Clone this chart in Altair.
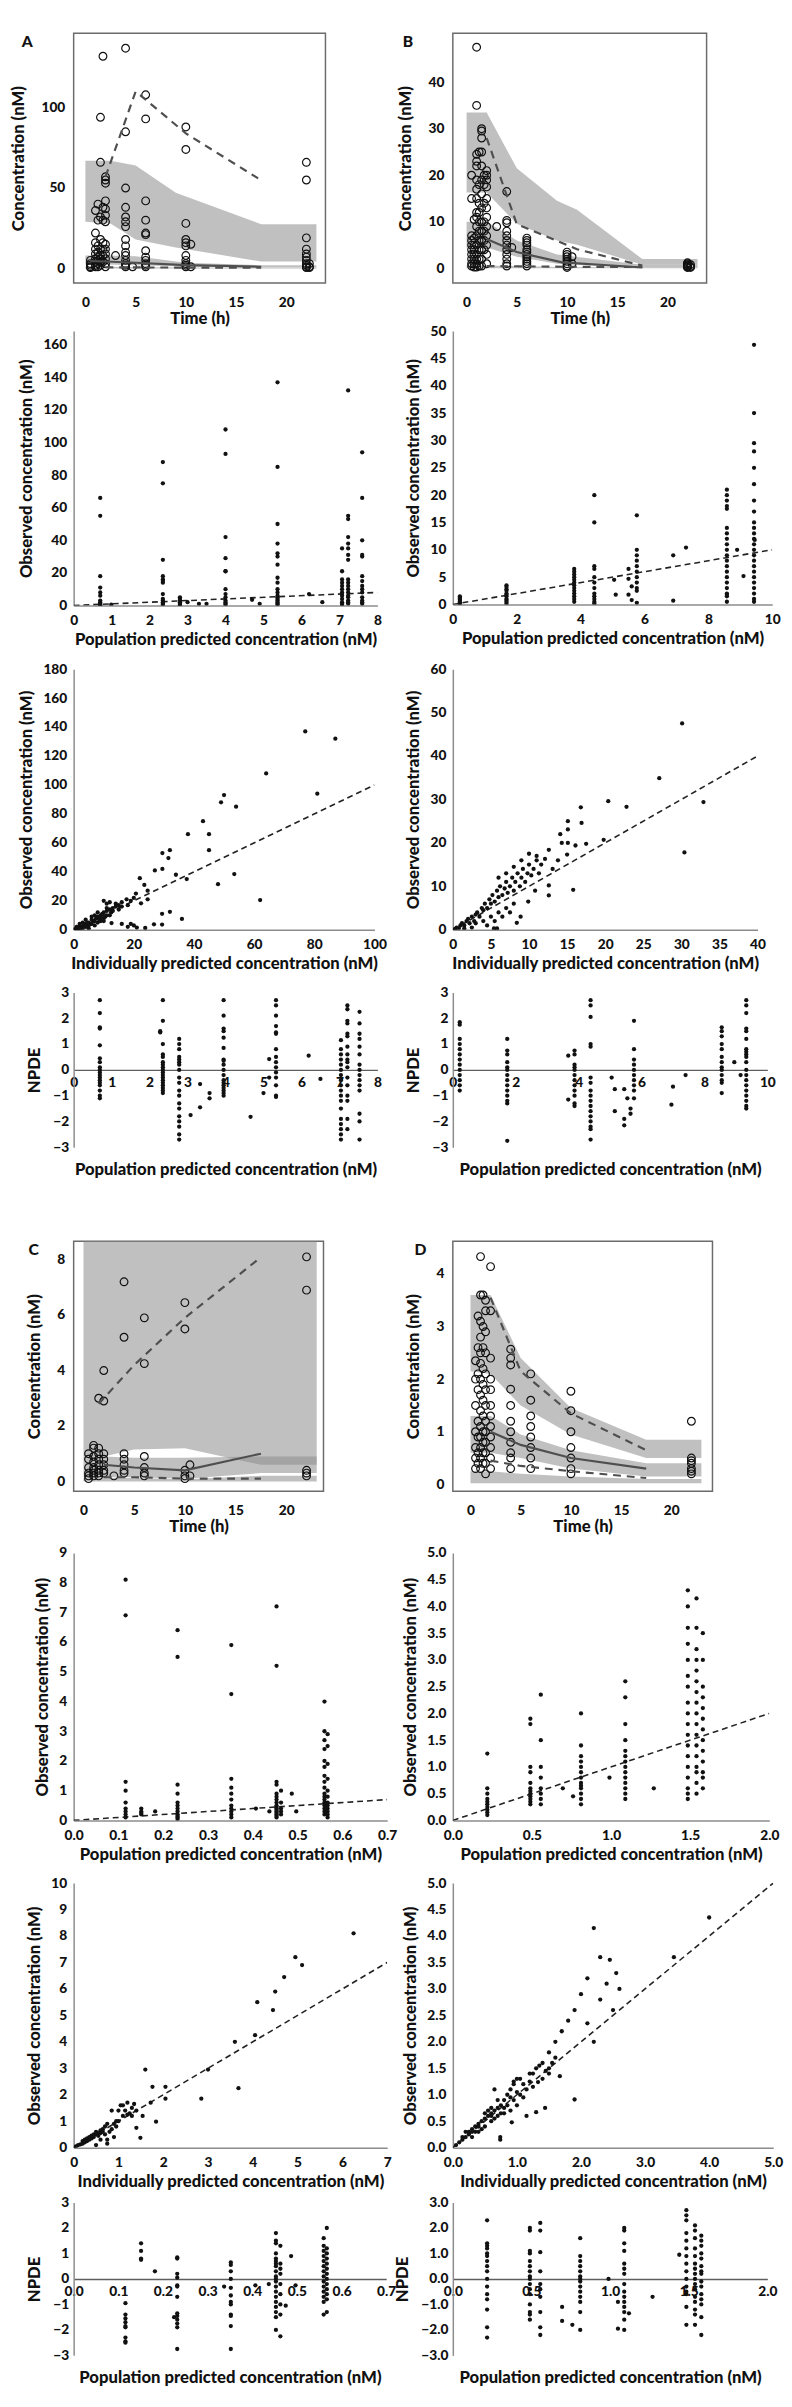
import altair as alt
import pandas as pd

FONT = "Lato"
WEIGHT = 900
INK = "#111111"
BAND = "#8c8c8c"
LINE = "#4f4f4f"
AXC = "#8c8c8c"

# ======================= DATA =======================
# ---- Panel A : VPC (time h, concentration nM) ----
A_OBS = [
    (0.5, [5, 3, 2, 1, 0.5]),
    (1.0, [36, 22, 16, 12, 9, 6, 4, 2, 1]),
    (1.25, [40, 30, 14, 10, 7, 5, 3, 1]),
    (1.5, [94, 66, 32, 18, 12, 8, 6, 4, 2]),
    (1.75, [132, 38, 30, 16, 12, 8, 4]),
    (2.0, [57, 55, 53, 42, 37, 33, 29, 15, 12, 9, 6, 3, 1]),
    (3.0, [8]),
    (4.0, [137, 85, 50, 38, 32, 29, 26, 18, 14, 10, 8, 5, 3, 2, 1]),
    (4.7, [1]),
    (6.0, [108, 93, 42, 30, 22, 21, 11, 7, 5, 3, 2, 1]),
    (10.0, [88, 74, 28, 18, 16, 14, 8, 5, 3, 2, 1]),
    (10.5, [15, 1]),
    (22.0, [66, 55, 19, 12, 9, 7, 5, 3, 2, 1, 0.5]),
    (22.3, [3, 1, 0.5]),
]
A_BAND_HI = [(0, 29, 67), (2.5, 28, 67), (5, 18, 64), (9, 13, 47), (17.5, 4.3, 27.5), (23, 4.3, 27.5)]
A_BAND_MED = [(0, 2.5, 8), (2, 2.5, 8), (5, 2.0, 7.5), (10, 1.2, 3.5), (17.5, 0.6, 2.0), (23, 0.6, 2.0)]
A_BAND_LO = [(0, 0.0, 1.0), (2, 0.0, 1.0), (5, 0.0, 0.8), (10, 0.0, 0.5), (17.5, 0.0, 0.4), (23, 0.0, 0.4)]
A_P95 = [(2, 57), (5, 110), (6, 105), (10, 84), (17.2, 56)]
A_P50 = [(0.5, 4.5), (2, 4.3), (5, 3.5), (10, 2.0), (17.5, 1.0)]
A_P05 = [(2, 0.7), (5, 0.6), (10, 0.5), (17.5, 0.4)]

# ---- Panel B : VPC ----
B_OBS = [
    (0.5, [20, 15, 7, 6, 5, 4, 3, 2, 1, 0.5]),
    (0.75, [10.5, 6.5, 5, 4, 3, 2, 1, 0.3]),
    (1.0, [47.5, 35, 24.5, 23, 22, 19, 17, 15, 12, 11, 9, 7, 5, 3, 2, 1, 0.3]),
    (1.25, [25, 18, 14, 12, 10, 8, 6, 4, 2, 0.5]),
    (1.5, [30, 29.5, 28, 25, 22, 19, 16, 13, 10, 8, 6, 4, 2, 0.5]),
    (1.75, [20, 18, 14, 10, 8, 6, 4]),
    (2.0, [21, 20, 19, 17.5, 15, 13, 11, 9, 7, 5, 3, 1]),
    (3.0, [9]),
    (4.0, [16.5, 10.3, 9.8, 8, 7, 6, 5, 4, 3, 2, 1, 0.5]),
    (4.5, [4.5]),
    (6.0, [6.5, 6, 5.5, 5, 4, 3.5, 3, 2.5, 2, 1.5, 1, 0.5]),
    (10.0, [3.5, 3, 2.5, 2, 1.5, 1, 0.5, 0.2]),
    (10.5, [2.5, 1]),
    (22.0, [1.2, 1.0, 0.8, 0.6, 0.5, 0.3, 0.2]),
    (22.3, [0.8, 0.4, 0.2]),
]
B_BAND_HI = [(0, 16.3, 33.5), (2, 16.3, 33.5), (5, 9.6, 21.5), (9, 6.0, 14.5), (11, 5.1, 12.6), (17.5, 0.8, 2.0), (23, 0.8, 2.0)]
B_BAND_MED = [(0, 4.5, 10), (2, 4.5, 10), (5, 2.5, 6), (9, 1.0, 3.0), (17.5, 0.2, 0.8), (23, 0.2, 0.8)]
B_BAND_LO = [(0, 0.05, 0.6), (2, 0.05, 0.6), (5, 0.05, 0.5), (9, 0.05, 0.3), (17.5, 0.05, 0.2), (23, 0.05, 0.2)]
B_P95 = [(2, 28), (5, 9.5), (11, 4.1), (17.5, 0.6)]
B_P50 = [(2, 6.3), (5, 3.5), (9.5, 1.3), (17.5, 0.2)]
B_P05 = [(2, 0.5), (5, 0.45), (10, 0.35), (17.5, 0.3)]

# ---- Panel C : VPC ----
C_OBS = [
    (0.5, [1.0, 0.8, 0.5, 0.3, 0.2, 0.1]),
    (1.0, [1.3, 1.2, 0.9, 0.7, 0.5, 0.4, 0.3, 0.2]),
    (1.5, [3.0, 1.2, 1.0, 0.8, 0.6, 0.4, 0.3, 0.2]),
    (2.0, [4.0, 2.9, 1.0, 0.8, 0.6, 0.4, 0.3]),
    (3.0, [0.2]),
    (4.0, [7.2, 5.2, 1.0, 0.8, 0.6, 0.4, 0.3]),
    (6.0, [5.9, 4.25, 0.9, 0.5, 0.3, 0.2]),
    (10.0, [6.45, 5.5, 0.4, 0.2, 0.1]),
    (10.5, [0.6, 0.2]),
    (22.0, [8.1, 6.9, 0.4, 0.3, 0.2]),
]
C_BAND_HI = [(0, 0.9, 20), (2, 0.9, 20), (5, 1.15, 20), (10, 1.2, 20), (17.5, 0.6, 20), (23, 0.6, 20)]
C_BAND_MED = [(0, 0.15, 0.9), (2, 0.15, 0.9), (5, 0.15, 0.85), (10, 0.1, 0.85), (17.5, 0.3, 0.9), (23, 0.3, 0.9)]
C_BAND_LO = [(0, 0.0, 0.12), (2, 0.0, 0.12), (5, 0.0, 0.12), (10, 0.0, 0.08), (17.5, 0.0, 0.2), (23, 0.0, 0.2)]
C_P95 = [(1.5, 2.8), (2, 3.0), (5, 4.2), (10, 5.9), (17.2, 8.0)]
C_P50 = [(2, 0.6), (5, 0.5), (10, 0.4), (17.5, 1.0)]
C_P05 = [(2, 0.15), (5, 0.15), (10, 0.1), (17.5, 0.1)]

# ---- Panel D : VPC ----
D_OBS = [
    (0.5, [2.35, 2.0, 1.5, 1.0, 0.7, 0.5, 0.3]),
    (0.75, [3.2, 2.6, 2.1, 1.8, 1.2, 0.9, 0.6, 0.4]),
    (1.0, [4.33, 3.6, 3.1, 2.8, 2.5, 2.3, 2.0, 1.7, 1.4, 1.1, 0.9, 0.7, 0.5, 0.3]),
    (1.25, [3.6, 3.0, 2.6, 2.2, 1.9, 1.6, 1.3, 1.0, 0.8, 0.6, 0.4]),
    (1.5, [3.5, 3.3, 2.9, 2.5, 2.1, 1.8, 1.5, 1.2, 1.0, 0.8, 0.6, 0.4, 0.2]),
    (2.0, [4.14, 3.3, 2.4, 2.0, 1.8, 1.5, 1.3, 1.1, 0.9, 0.7, 0.5, 0.3]),
    (4.0, [2.57, 2.4, 2.27, 1.81, 1.5, 1.2, 1.0, 0.8, 0.6, 0.5, 0.3]),
    (6.0, [2.1, 1.6, 1.3, 1.1, 0.9, 0.7, 0.5, 0.3]),
    (10.0, [1.77, 1.4, 1.0, 0.7, 0.5, 0.3, 0.2]),
    (22.0, [1.2, 0.5, 0.45, 0.4, 0.3, 0.25, 0.2]),
]
D_BAND_HI = [(0, 2.15, 3.6), (2, 2.1, 3.6), (5, 1.5, 2.4), (10, 0.95, 1.45), (17.5, 0.5, 0.85), (23, 0.5, 0.85)]
D_BAND_MED = [(0, 0.6, 1.3), (2, 0.6, 1.3), (5, 0.5, 0.95), (10, 0.3, 0.65), (17.5, 0.15, 0.4), (23, 0.15, 0.4)]
D_BAND_LO = [(0, 0.02, 0.25), (2, 0.02, 0.25), (5, 0.02, 0.2), (10, 0.02, 0.15), (17.5, 0.02, 0.1), (23, 0.02, 0.1)]
D_P95 = [(2, 3.55), (5, 2.15), (10, 1.35), (17.5, 0.65)]
D_P50 = [(2, 1.0), (5, 0.75), (10, 0.5), (17.5, 0.3)]
D_P05 = [(2, 0.45), (5, 0.35), (10, 0.25), (17.5, 0.12)]

# ---- Observed vs population predicted (pred, [observed...]) ----
A_POP = [
    (0.70, [66, 55, 18, 11, 8, 6, 3, 2, 1, 0.5, 0.2]), (0.99, [0.5]),
    (2.35, [88, 75, 28, 18, 16, 15, 14, 7, 4, 3, 2, 1, 0.5]),
    (2.8, [5, 4, 3, 2, 1, 0.5, 0.2]), (3.0, [2]), (3.3, [1]), (3.5, [1]),
    (4.0, [108, 93, 42, 29, 21, 21, 10, 7, 5, 3, 2, 1, 0.5]), (4.7, [3.5]), (4.9, [1]),
    (5.37, [137, 85, 50, 38, 32, 30, 25, 17, 14, 10, 8, 6, 5, 4, 3, 2, 1, 0.5]),
    (6.2, [7]), (6.55, [2]),
    (7.07, [35, 21, 16, 14, 12, 10, 8, 6, 4, 2, 1, 0.5]),
    (7.23, [132, 55, 53, 42, 38, 35, 31, 28, 16, 14, 12, 10, 8, 6, 5, 3, 2, 1]),
    (7.6, [94, 66, 40, 31, 30, 18, 15, 12, 10, 8, 5, 3, 2, 1]),
]
B_POP = [
    (0.22, [1.5, 1.2, 1.0, 0.8, 0.5, 0.3, 0.1]),
    (1.68, [3.5, 3.2, 2.8, 2.5, 2.0, 1.8, 1.5, 1.0, 0.8, 0.5, 0.2]),
    (3.8, [6.5, 6, 5.5, 5, 4.5, 4, 3.5, 3, 2.5, 2, 1.5, 1, 0.5]),
    (4.43, [20, 15, 7, 6.5, 5, 4, 3, 2, 1.5, 1, 0.5, 0.2]),
    (5.05, [4.5]), (5.1, [1.8]), (5.5, [6.5, 4.7, 1.8]), (5.6, [3.3, 0.8]),
    (5.76, [16.3, 10, 9, 8, 7, 6, 5, 4, 3, 2.5, 0.3]),
    (6.9, [9, 0.7]), (7.3, [10.4]),
    (8.58, [21, 20, 19, 18, 17.5, 14, 13, 12, 11, 10, 9, 8, 7, 6, 5, 4, 3, 2, 1.8, 1.5, 0.5]),
    (8.9, [10]), (9.1, [5.2]),
    (9.43, [47.5, 35, 29.5, 28, 25, 22, 19, 17, 15, 14, 13, 12, 11, 10, 9, 8, 7, 6, 5, 4, 3, 2, 1, 0.5]),
    (9.45, [11.8]),
]
C_POP = [
    (0.116, [8.1, 6.9, 1.3, 1.0, 0.6, 0.4, 0.3, 0.2, 0.1]),
    (0.151, [0.4, 0.3, 0.25, 0.2]), (0.182, [0.3]),
    (0.232, [6.4, 5.5, 1.2, 0.9, 0.6, 0.5, 0.4, 0.3, 0.2, 0.15, 0.1, 0.05]),
    (0.352, [5.9, 4.25, 1.4, 1.1, 0.9, 0.7, 0.5, 0.4, 0.3, 0.2, 0.1]),
    (0.407, [0.4]), (0.437, [0.3]),
    (0.453, [7.2, 5.2, 1.3, 1.2, 0.9, 0.8, 0.7, 0.6, 0.5, 0.45, 0.4, 0.35, 0.3, 0.25, 0.2, 0.15, 0.1]),
    (0.463, [1.0, 0.6, 0.4, 0.3, 0.2]), (0.487, [0.9]), (0.497, [0.3]),
    (0.56, [4.0, 3.0, 2.7, 2.4, 2.0, 1.8, 1.5, 1.3, 1.1, 0.9, 0.8, 0.7, 0.6, 0.5, 0.4, 0.3, 0.2]),
    (0.567, [2.9, 2.5, 1.9, 1.4, 1.0, 0.8, 0.6, 0.5, 0.4, 0.3, 0.2, 0.1]),
]
D_POP = [
    (0.218, [1.25, 0.6, 0.5, 0.4, 0.35, 0.3, 0.25, 0.2, 0.15, 0.1]),
    (0.49, [1.9, 1.8, 1.0, 0.9, 0.7, 0.6, 0.55, 0.5, 0.45, 0.4, 0.35, 0.3]),
    (0.556, [2.35, 1.5, 1.0, 0.8, 0.6, 0.5, 0.4, 0.3]),
    (0.695, [0.6]), (0.76, [0.45]),
    (0.81, [2.0, 1.4, 1.2, 1.1, 1.0, 0.9, 0.8, 0.7, 0.65, 0.6, 0.5, 0.4, 0.3]),
    (0.99, [0.8]),
    (1.09, [2.6, 2.3, 1.8, 1.5, 1.3, 1.2, 1.1, 1.0, 0.9, 0.8, 0.7, 0.6, 0.5, 0.4]),
    (1.27, [0.6]),
    (1.485, [4.3, 4.0, 3.6, 3.3, 3.0, 2.7, 2.5, 2.2, 2.0, 1.8, 1.6, 1.4, 1.2, 1.0, 0.8, 0.6, 0.5, 0.4]),
    (1.54, [4.15, 3.6, 3.2, 3.0, 2.8, 2.6, 2.4, 2.2, 2.0, 1.8, 1.6, 1.4, 1.2, 1.0, 0.9, 0.7, 0.5]),
    (1.58, [3.5, 3.0, 2.5, 2.3, 2.1, 1.9, 1.7, 1.5, 1.3, 1.1, 0.9, 0.8, 0.6]),
]

# ---- Observed vs individually predicted (pred, observed) ----
A_IND = [
    (77, 137), (87, 132), (64, 108), (81, 94), (50, 93), (49, 88), (54, 85), (43, 75), (38, 66), (45, 66),
    (45, 55), (32, 55), (29.5, 53), (31.5, 49.5), (27, 41), (29.5, 42), (34, 38), (37.6, 35), (48, 31.5),
    (53.4, 38.5), (22, 35.6), (23.5, 31), (24.6, 27), (20.7, 25), (17.6, 21), (24.6, 21), (62, 20.5),
    (22.4, 18.3), (29.4, 11), (32, 12.4), (36, 7.5), (29.4, 3.6), (26.7, 3.8), (23.8, 1.3), (20, 3),
    (12.6, 4.6), (18, 2), (19, 4), (21, 1.5), (16, 4), (10, 20), (11, 18), (12, 19),
    (0.5, 0.3), (1, 1), (1.5, 0.8), (2, 2), (2.5, 1.5), (3, 2.5), (3.5, 3), (4, 4), (4.5, 5), (5, 5),
    (5.5, 4), (6, 7), (6.5, 6), (7, 6), (7.5, 8), (8, 9), (8.5, 7), (9, 10), (9.5, 11), (10, 12),
    (10.5, 9), (11, 13), (12, 14), (12.5, 12), (13, 15), (14, 16), (15, 17), (16, 19), (3, 5), (5, 3),
    (6, 4), (8, 5), (2, 4), (4, 7), (7, 10), (10, 8), (11, 15), (9, 6), (1, 2), (2, 0.5), (3, 1), (4, 2),
    (5, 1), (7, 3), (8, 12), (9, 8), (13, 13), (14, 18), (12, 10), (6, 9), (0.3, 0.2), (0.8, 0.6),
    (1.2, 1.5), (18, 17), (15, 14), (16, 16), (19, 20), (20, 22), (11, 10), (10, 6),
]
B_IND = [
    (30.1, 47.5), (27.1, 34.9), (32.9, 29.4), (30.4, 17.8), (20.4, 29.6), (22.8, 28.3), (16.8, 28.2),
    (16.9, 24.6), (15.1, 25), (15.1, 23.1), (14.1, 22), (14.3, 20), (15.1, 20), (16.1, 19.4), (17.5, 19.8),
    (19.8, 20.7), (15.0, 17.3), (12.6, 18.4), (13.8, 16), (13.1, 14), (12.1, 16.3), (12.6, 10.2),
    (12.6, 7.9), (15.8, 9.2), (8.4, 1.6), (8.9, 3), (9.9, 6.5), (10.8, 9), (5.4, 0.3),
    (0.3, 0.2), (0.5, 0.5), (0.8, 0.4), (1, 1), (1.2, 1.5), (1.5, 1), (1.8, 2), (2, 2.5), (2.2, 1.5),
    (2.5, 3), (2.8, 2), (3, 3.5), (3.2, 4), (3.5, 3), (3.8, 5), (4, 4.5), (4.2, 6), (4.5, 5), (4.8, 7),
    (5, 6), (5.2, 8), (5.5, 6.5), (5.8, 9), (6, 7.5), (6.2, 10), (6.5, 8), (6.8, 9.5), (7, 11), (7.2, 8.5),
    (7.5, 10), (7.8, 12), (8, 9), (8.2, 11), (8.5, 13), (8.8, 10), (9, 12), (9.2, 14), (9.5, 11),
    (9.8, 13), (10, 15), (10.3, 12.5), (10.6, 14), (11, 16), (11.3, 13), (11.6, 15), (3, 1.5), (4, 2),
    (5, 3), (5.5, 2), (6, 4), (6.5, 3), (7, 5), (7.5, 4), (8, 6), (4.5, 1), (5.8, 0.3), (2.5, 0.5),
    (1.5, 0.3), (6, 12), (7, 13), (8, 14.5), (9, 16), (10, 17.5), (11, 17),
]
C_IND = [
    (6.25, 8.1), (4.95, 7.2), (5.1, 6.9), (4.7, 6.45), (4.5, 5.9), (4.1, 5.5), (4.45, 5.2), (4.05, 4.25),
    (3.6, 4.0), (1.6, 2.95), (3.0, 2.95), (1.76, 2.3), (2.05, 2.3), (2.05, 1.85), (2.85, 1.85),
    (3.68, 2.25), (1.72, 1.7), (1.84, 0.98), (1.54, 1.2), (1.4, 0.75), (1.49, 0.37),
    (0.05, 0.05), (0.1, 0.1), (0.15, 0.12), (0.2, 0.15), (0.2, 0.25), (0.25, 0.3), (0.3, 0.25),
    (0.3, 0.35), (0.35, 0.4), (0.4, 0.35), (0.4, 0.45), (0.45, 0.5), (0.5, 0.5), (0.5, 0.6), (0.55, 0.45),
    (0.6, 0.55), (0.6, 0.65), (0.65, 0.7), (0.7, 0.8), (0.75, 0.9), (0.75, 0.3), (0.8, 0.6), (0.85, 1.4),
    (0.9, 0.9), (0.95, 0.8), (1.0, 1.0), (1.05, 1.6), (1.1, 1.2), (1.15, 1.4), (1.2, 1.7), (1.25, 1.3),
    (1.3, 1.5), (1.35, 1.65), (1.4, 1.4), (0.9, 0.4), (0.5, 0.1), (0.75, 0.15), (1.0, 1.4), (0.6, 0.3),
    (1.1, 1.6), (1.2, 1.25), (1.3, 1.2), (0.95, 1.0), (0.85, 0.7), (0.7, 0.5), (0.35, 0.3), (0.25, 0.2),
    (0.45, 0.4), (0.55, 0.55), (0.65, 0.6),
]
D_IND = [
    (4.0, 4.35), (2.2, 4.15), (2.3, 3.6), (2.45, 3.55), (3.45, 3.6), (2.55, 3.3), (2.6, 3.0), (2.4, 3.1),
    (2.1, 3.2), (2.0, 2.9), (2.3, 2.8), (1.9, 2.6), (2.5, 2.6), (1.8, 2.4), (2.1, 2.35), (1.7, 2.2),
    (1.6, 2.0), (2.2, 2.0), (1.9, 0.91), (1.67, 1.35), (1.33, 1.24), (1.44, 0.75), (1.3, 0.67),
    (1.15, 0.6), (0.92, 0.48), (0.74, 0.15), (0.74, 0.2), (1.5, 1.5), (1.45, 1.45), (1.55, 1.6),
    (1.4, 1.3), (1.6, 1.7), (1.5, 1.8), (1.35, 1.55), (1.25, 1.4), (1.2, 1.25), (1.05, 1.3), (0.95, 1.25),
    (0.05, 0.05), (0.1, 0.1), (0.15, 0.15), (0.2, 0.2), (0.2, 0.3), (0.25, 0.3), (0.3, 0.35), (0.35, 0.3),
    (0.4, 0.45), (0.45, 0.5), (0.5, 0.55), (0.55, 0.6), (0.6, 0.65), (0.65, 0.7), (0.7, 0.75), (0.75, 0.8),
    (0.8, 0.9), (0.85, 1.0), (0.9, 1.1), (0.95, 1.2), (1.0, 1.3), (1.05, 1.0), (1.1, 1.2), (1.2, 1.4),
    (1.3, 1.5), (1.4, 1.6), (1.5, 1.4), (0.3, 0.2), (0.4, 0.3), (0.5, 0.4), (0.6, 0.5), (0.7, 0.6),
    (0.8, 0.65), (0.9, 0.7), (1.0, 0.8), (0.5, 0.65), (0.6, 0.75), (0.65, 1.1), (0.55, 0.7), (0.35, 0.4),
    (0.45, 0.35), (0.25, 0.25), (0.15, 0.2), (0.7, 0.9), (0.75, 0.65), (0.8, 0.75), (0.85, 0.8),
    (0.9, 0.95), (0.95, 0.9), (1.0, 1.05), (1.1, 0.95), (1.15, 1.1), (1.25, 1.15), (0.6, 0.6),
    (0.65, 0.55), (0.4, 0.4), (0.3, 0.3),
]

# ---- NPDE vs population predicted (pred, [npde...]) ----
A_NPDE = [
    (0.69, [2.7, 2.2, 1.65, 1.6, 0.95, 0.45, 0.3, 0.1, 0, -0.1, -0.2, -0.3, -0.4, -0.5, -0.6, -0.8, -1.0, -1.1]),
    (2.28, [1.5, 1.45]),
    (2.35, [2.7, 1.9, 1.0, 0.6, 0.5, 0.3, 0.2, 0.1, 0, -0.1, -0.2, -0.3, -0.4, -0.5, -0.6, -0.7, -0.8, -0.9]),
    (2.78, [1.2, 1.0, 0.8, 0.5, 0.4, 0.3, 0.2, 0, -0.3, -0.5, -0.8, -1.0, -1.3, -1.5, -1.8, -2.0, -2.2, -2.5, -2.7]),
    (3.08, [-1.75]), (3.33, [-0.55, -1.45]), (3.58, [-0.9, -1.1]),
    (3.95, [2.7, 2.1, 1.6, 1.5, 1.25, 0.85, 0.4, 0.35, 0.2, 0, -0.2, -0.4, -0.5, -0.6, -0.7, -0.8, -0.9, -1.0]),
    (4.66, [-1.82]), (5.0, [-0.9]), (5.15, [0.42, -0.3]),
    (5.33, [2.7, 2.5, 2.1, 1.7, 1.45, 1.4, 0.8, 0.5, 0.3, 0.1, -0.1, -0.3, -0.6, -1.0, -1.05]),
    (6.19, [0.55]), (6.5, [-0.35]),
    (7.04, [1.15, 0.8, 0.6, 0.4, 0.2, 0, -0.2, -0.4, -0.6, -0.8, -1.0, -1.2, -1.5, -1.9, -2.1, -2.3, -2.5, -2.7]),
    (7.21, [2.5, 2.35, 1.9, 1.8, 1.4, 1.3, 0.9, 0.6, 0.4, 0.3, 0.1, -0.3, -0.6, -1.0, -1.2, -1.9, -2.3]),
    (7.53, [2.25, 1.8, 1.4, 1.2, 0.9, 0.6, 0.2, 0, -0.2, -0.4, -0.6, -0.8, -1.7, -2.0, -2.7]),
]
B_NPDE = [
    (0.22, [1.85, 1.75, 1.2, 1.0, 0.8, 0.6, 0.4, 0.2, 0, -0.2, -0.4, -0.6, -0.8]),
    (1.73, [1.2, 0.75, 0.6, 0.3, 0.1, 0, -0.2, -0.4, -0.6, -0.8, -1.0, -1.2, -1.3, -2.75]),
    (3.67, [0.55, -1.15]),
    (3.87, [0.75, 0.6, 0.2, 0.1, 0, -0.2, -0.4, -0.6, -0.8, -1.0, -1.3, -1.4]),
    (4.38, [2.7, 2.5, 2.05, 1.0, 0.9, -0.3, -0.5, -0.8, -1.0, -1.2, -1.4, -1.6, -1.8, -2.0, -2.2, -2.3, -2.7]),
    (5.05, [-0.3]), (5.15, [-0.75, -1.6]), (5.45, [-0.75, -1.9, -2.15]), (5.55, [-1.1]), (5.65, [-1.5, -1.7]),
    (5.76, [1.9, 0.8, 0.4, 0.2, 0, -0.2, -0.4, -0.6, -0.8, -1.1]),
    (6.95, [-1.35]), (7.0, [-0.65]), (7.4, [-0.2]),
    (8.55, [1.65, 1.5, 1.3, 1.0, 0.8, 0.5, 0.3, 0.1, 0, -0.2, -0.4, -0.5, -0.9]),
    (8.95, [0.3]), (9.15, [-0.2]),
    (9.33, [2.7, 2.5, 2.2, 1.6, 1.5, 1.2, 0.8, 0.7, 0.6, 0.5, 0.3, 0, -0.2, -0.4, -0.6, -0.8, -1.0, -1.2, -1.4, -1.5]),
]
C_NPDE = [
    (0.116, [-0.95, -1.4, -1.55, -1.7, -1.85, -1.9, -2.3, -2.45, -2.5]),
    (0.151, [1.4, 1.1, 0.8, 0.75]), (0.182, [0.3]), (0.225, [-1.5]),
    (0.232, [0.85, 0.8, 0.2, 0.05, -0.25, -0.3, -0.7, -1.35, -1.45, -1.6, -1.75, -1.9, -2.75]),
    (0.337, [-0.3]),
    (0.352, [0.65, 0.55, 0.3, 0.0, -0.35, -0.65, -0.9, -1.0, -1.4, -1.45, -1.85, -2.75]),
    (0.407, [-0.25]), (0.437, [-0.2]),
    (0.453, [1.8, 1.5, 1.4, 1.0, 0.8, 0.7, 0.6, 0.5, 0.3, 0.1, 0, -0.1, -0.3, -0.5, -0.7, -0.9, -1.1, -1.3, -1.5, -2.0]),
    (0.463, [1.3, 0.6, 0.4, 0.2, -0.2, -0.6, -1.0, -1.4, -2.25]),
    (0.475, [-1.05]), (0.487, [0.9]), (0.497, [-0.25]),
    (0.56, [1.6, 1.3, 1.1, 0.9, 0.7, 0.5, 0.3, 0.1, -0.1, -0.3, -0.5, -0.7, -0.9, -1.4]),
    (0.567, [2.0, 1.2, 1.0, 0.8, 0.6, 0.4, 0.2, 0, -0.2, -0.4, -0.6, -0.8, -1.3]),
]
D_NPDE = [
    (0.218, [2.3, 1.4, 1.3, 1.2, 1.0, 0.9, 0.7, 0.5, 0.3, 0, -0.3, -0.6, -0.8, -1.2, -1.9, -2.3]),
    (0.49, [2.0, 1.9, 1.1, 1.0, 0.7, 0.5, 0.3, 0.1, 0, -0.2, -0.4, -0.6, -1.0, -1.3, -1.4, -1.6]),
    (0.556, [2.2, 1.9, 1.05, 0.3, -0.2, -0.4, -0.7, -1.3, -1.9, -2.2]),
    (0.695, [-1.1, -1.65]), (0.76, [-1.8]),
    (0.81, [1.6, 0.9, 0.7, 0.5, 0.3, 0.1, 0, -0.1, -0.3, -0.5, -0.7, -0.9, -1.3, -2.0]),
    (0.99, [0.0]), (1.05, [-0.9, -1.95]),
    (1.09, [2.0, 1.9, 1.4, 1.1, 0.6, 0.4, 0.2, -0.2, -0.5, -0.7, -0.9, -1.1, -1.3, -1.6, -2.0]),
    (1.12, [-1.35]), (1.27, [-0.7]), (1.44, [0.95]),
    (1.485, [2.7, 2.5, 2.3, 1.8, 1.5, 1.2, 0.9, 0.6, 0.3, 0, -0.3, -0.5, -0.6, -1.1, -1.8]),
    (1.54, [2.1, 1.9, 1.6, 1.2, 0.9, 0.6, 0.4, 0.2, 0, -0.2, -0.4, -0.7, -0.9, -1.2, -1.4, -1.8]),
    (1.58, [1.7, 1.5, 1.3, 1.0, 0.8, 0.5, 0.3, 0.2, -0.1, -0.3, -0.6, -0.8, -1.0, -1.5, -2.2]),
]

# identity-line extents and tick values
A_POP_LINE, B_POP_LINE, C_POP_LINE, D_POP_LINE = [0, 8], [0, 10], [0, 0.7], [0, 2.0]
A_IND_LINE, B_IND_LINE, C_IND_LINE, D_IND_LINE = [0, 100], [0, 40], [0, 7], [0, 5]
TIME_TICKS = [0, 5, 10, 15, 20]
NPDE_TICKS = [-3, -2, -1, 0, 1, 2, 3]


# ======================= HELPERS =======================
def strips(s):
    xs, ys = [], []
    for x, vals in s:
        for v in vals:
            xs.append(x)
            ys.append(v)
    return pd.DataFrame({"x": xs, "y": ys})


def axis(values, title, fmt, lpad, tpad, domain=True, **kw):
    a = dict(values=values, title=title, grid=False, labelFont=FONT, titleFont=FONT,
             labelFontWeight=WEIGHT, titleFontWeight=WEIGHT, labelFontSize=14, titleFontSize=17,
             labelColor=INK, titleColor=INK, labelPadding=lpad, titlePadding=tpad,
             domain=domain, domainColor=AXC, domainWidth=1.5, ticks=False,
             labelOverlap=False, labelFlush=False)
    if fmt:
        a["format"] = fmt
    a.update(kw)
    return alt.Axis(**a)


def vpc(letter, obs, bands, p95, p50, p05, xdom, ydom, yticks, w, h, lx, ly):
    xs = alt.Scale(domain=xdom, nice=False, zero=False)
    ys = alt.Scale(domain=ydom, nice=False, zero=False)
    xa = axis(TIME_TICKS, "Time (h)", None, 13, 1, domain=False)
    ya = axis(yticks, "Concentration (nM)", None, 9, 14, domain=False)

    def X(f):
        return alt.X(f, type="quantitative", scale=xs, axis=xa)

    def Y(f):
        return alt.Y(f, type="quantitative", scale=ys, axis=ya)

    layers = []
    for b in bands:
        df = pd.DataFrame(b, columns=["x", "y", "y2"])
        layers.append(alt.Chart(df).mark_area(color=BAND, opacity=0.55, clip=True)
                      .encode(x=X("x"), y=Y("y"), y2=alt.Y2("y2")))
    layers.append(alt.Chart(strips(obs)).mark_point(shape="circle", filled=False, color=INK, size=62,
                                                     strokeWidth=1.2, opacity=1, clip=True)
                  .encode(x=X("x"), y=Y("y")))
    for pts, dash in ((p95, True), (p50, False), (p05, True)):
        df = pd.DataFrame(pts, columns=["x", "y"])
        m = dict(color=LINE, strokeWidth=2.2, clip=True)
        if dash:
            m["strokeDash"] = [8, 6]
        layers.append(alt.Chart(df).mark_line(**m).encode(x=X("x"), y=Y("y")))
    layers.append(alt.Chart(pd.DataFrame({"t": [letter]})).mark_text(
        font=FONT, fontWeight=WEIGHT, fontSize=16, align="left", baseline="middle", color=INK)
        .encode(x=alt.value(lx), y=alt.value(ly), text="t:N"))
    return alt.layer(*layers).properties(
        width=w, height=h, view=alt.ViewBackground(stroke="#6b6b6b", strokeWidth=1.5))


def scat(df, line, xdom, ydom, xticks, yticks, xfmt, yfmt, xtitle, w, h):
    xs = alt.Scale(domain=xdom, nice=False, zero=False)
    ys = alt.Scale(domain=ydom, nice=False, zero=False)
    xa = axis(xticks, xtitle, xfmt, 8, 5)
    ya = axis(yticks, "Observed concentration (nM)", yfmt, 7, 8)
    ln = alt.Chart(pd.DataFrame({"x": line, "y": line})).mark_line(
        color="#222222", strokeWidth=1.6, strokeDash=[6, 4], clip=True).encode(
        x=alt.X("x:Q", scale=xs, axis=xa), y=alt.Y("y:Q", scale=ys, axis=ya))
    pts = alt.Chart(df).mark_circle(color=INK, size=19, opacity=1, clip=True).encode(
        x=alt.X("x:Q", scale=xs, axis=xa), y=alt.Y("y:Q", scale=ys, axis=ya))
    return alt.layer(ln, pts).properties(width=w, height=h)


def npde(data, xdom, xticks, xfmt, yfmt, w, h):
    xs = alt.Scale(domain=xdom, nice=False, zero=False)
    ys = alt.Scale(domain=[-3, 3], nice=False, zero=False)
    xa = axis(xticks, "Population predicted concentration (nM)", xfmt, 6, 0,
              offset=-h / 2, titleY=h / 2 + 23, titleBaseline="middle",
              domainColor="#5e5e5e")
    ya = axis(NPDE_TICKS, "NPDE", yfmt, 5, 10)
    return alt.Chart(strips(data)).mark_circle(color=INK, size=19, opacity=1, clip=True).encode(
        x=alt.X("x:Q", scale=xs, axis=xa), y=alt.Y("y:Q", scale=ys, axis=ya)
    ).properties(width=w, height=h)


def spacer(w, h):
    return alt.Chart(pd.DataFrame({"s": []})).mark_point(opacity=0).encode(
        x=alt.value(0), y=alt.value(0)).properties(width=w, height=h)


# ======================= PANELS =======================
pA = vpc("A", A_OBS, [A_BAND_HI, A_BAND_MED, A_BAND_LO], A_P95, A_P50, A_P05,
         [-1.17, 23.9], [-9.15, 146.3], [0, 50, 100], 257, 255, -53, 9)
pB = vpc("B", B_OBS, [B_BAND_HI, B_BAND_MED, B_BAND_LO], B_P95, B_P50, B_P05,
         [-1.37, 23.9], [-3.16, 50.5], [0, 10, 20, 30, 40], 259, 255, -51, 9)
pC = vpc("C", C_OBS, [C_BAND_HI, C_BAND_MED, C_BAND_LO], C_P95, C_P50, C_P05,
         [-0.97, 23.67], [-0.353, 8.66], [0, 2, 4, 6, 8], 255, 255, -46, 9)
pD = vpc("D", D_OBS, [D_BAND_HI, D_BAND_MED, D_BAND_LO], D_P95, D_P50, D_P05,
         [-1.76, 24.1], [-0.13, 4.62], [0, 1, 2, 3, 4], 265, 255, -39, 9)

POPT = "Population predicted concentration (nM)"
INDT = "Individually predicted concentration (nM)"
aPop = scat(strips(A_POP), A_POP_LINE, [0, 8], [0, 168.4], list(range(0, 9)), list(range(0, 161, 20)),
            None, None, POPT, 310, 280)
bPop = scat(strips(B_POP), B_POP_LINE, [0, 10], [0, 50], list(range(0, 11, 2)), list(range(0, 51, 5)),
            None, None, POPT, 326, 279)
cPop = scat(strips(C_POP), C_POP_LINE, [0, 0.7], [0, 9], [i / 10 for i in range(8)], list(range(10)),
            ".1f", None, POPT, 320, 273)
dPop = scat(strips(D_POP), D_POP_LINE, [0, 2], [0, 5], [0, 0.5, 1.0, 1.5, 2.0], [i / 2 for i in range(11)],
            ".1f", ".1f", POPT, 323, 273)

aInd = scat(pd.DataFrame(A_IND, columns=["x", "y"]), A_IND_LINE, [0, 100], [0, 180],
            list(range(0, 101, 20)), list(range(0, 181, 20)), None, None, INDT, 307, 266)
bInd = scat(pd.DataFrame(B_IND, columns=["x", "y"]), B_IND_LINE, [0, 40], [0, 60],
            list(range(0, 41, 5)), list(range(0, 61, 10)), None, None, INDT, 311, 266)
cInd = scat(pd.DataFrame(C_IND, columns=["x", "y"]), C_IND_LINE, [0, 7], [0, 10],
            list(range(8)), list(range(11)), None, None, INDT, 320, 270)
dInd = scat(pd.DataFrame(D_IND, columns=["x", "y"]), D_IND_LINE, [0, 5], [0, 5],
            [0, 1, 2, 3, 4, 5], [i / 2 for i in range(11)], ".1f", ".1f", INDT, 327, 270)

aN = npde(A_NPDE, [0, 8], list(range(9)), None, "d", 310, 158)
bN = npde(B_NPDE, [0, 10], list(range(0, 11, 2)), None, "d", 321, 158)
cN = npde(C_NPDE, [0, 0.7], [i / 10 for i in range(8)], ".1f", "d", 319, 156)
dN = npde(D_NPDE, [0, 2], [0, 0.5, 1.0, 1.5, 2.0], ".1f", ".1f", 321, 156)

# ======================= LAYOUT =======================
# grid of 3 columns: left panel | horizontal gap | right panel ; gap rows between panel rows
COL_GAP = 67
items = []


def panel_row(L, R):
    items.extend([L, spacer(COL_GAP, 1), R])


def gap_row(g):
    items.extend([spacer(1, g), spacer(1, 1), spacer(1, g)])


panel_row(pA, pB)
gap_row(49)
panel_row(aPop, bPop)
gap_row(65)
panel_row(aInd, bInd)
gap_row(64)
panel_row(aN, bN)
gap_row(96)
panel_row(pC, pD)
gap_row(63)
panel_row(cPop, dPop)
gap_row(64)
panel_row(cInd, dInd)
gap_row(56)
panel_row(cN, dN)

chart = alt.concat(*items, columns=3, spacing=0, align="each", bounds="flush").properties(
    padding=0
).configure_view(stroke="transparent")

chart.save("out.html", embed_options={"renderer": "svg", "actions": False})
